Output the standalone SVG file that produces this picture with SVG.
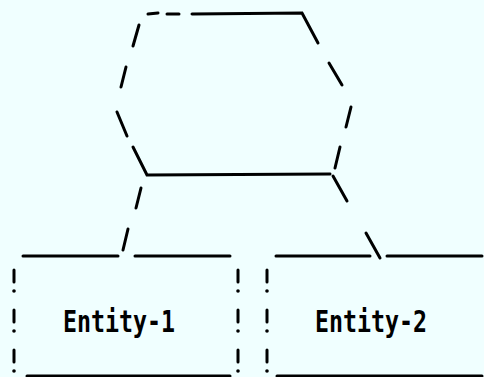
<svg xmlns="http://www.w3.org/2000/svg" width="484" height="377" viewBox="0 0 484 377">
<style>
.s{stroke:#000;stroke-width:3;stroke-linecap:round;fill:none}
.d{fill:#000}
.t{font-family:"DejaVu Sans Mono","Liberation Mono",monospace;font-size:30px;fill:#000;font-weight:bold}
</style>
<defs>
<g id="bang">
<line class="s" x1="0" y1="0" x2="0" y2="12"/>
<circle class="d" cx="0" cy="21" r="1.8"/>
</g>
</defs>
<rect width="484" height="377" fill="#f0ffff"/>
<g id="relationship">
<path class="s" d="M148 14 L158 13 M167 14 L179 14 M192 14 L302 13 L318 43 M329 63 L342 85 M351 107 L346 127 M340 147 L335 168 M330 174 L147 175 L133 147 M127 136 L117 112 M121 87 L126 67 M133 46 L139 25"/>
</g>
<g id="entity-1">
<path class="s" d="M23 256 L118 256 M135 256 L230 256 M27 376 L230 376"/>
<use href="#bang" x="14" y="270"/>
<use href="#bang" x="14" y="310"/>
<use href="#bang" x="14" y="350"/>
<use href="#bang" x="238" y="270"/>
<use href="#bang" x="238" y="310"/>
<use href="#bang" x="238" y="350"/>
<text class="t" x="63" y="332" textLength="112" lengthAdjust="spacingAndGlyphs">Entity-1</text>
</g>
<g id="entity-2">
<path class="s" d="M276 256 L370 256 M387 256 L482 256 M277 376 L482 376"/>
<use href="#bang" x="267" y="270"/>
<use href="#bang" x="267" y="310"/>
<use href="#bang" x="267" y="350"/>
<text class="t" x="315" y="332" textLength="112" lengthAdjust="spacingAndGlyphs">Entity-2</text>
</g>
<g id="connectors">
<path class="s" d="M141 188 L136 208 M128 229 L123 250"/>
<path class="s" d="M333 176 L347 201 M366 233 L380 258"/>
</g>
</svg>
